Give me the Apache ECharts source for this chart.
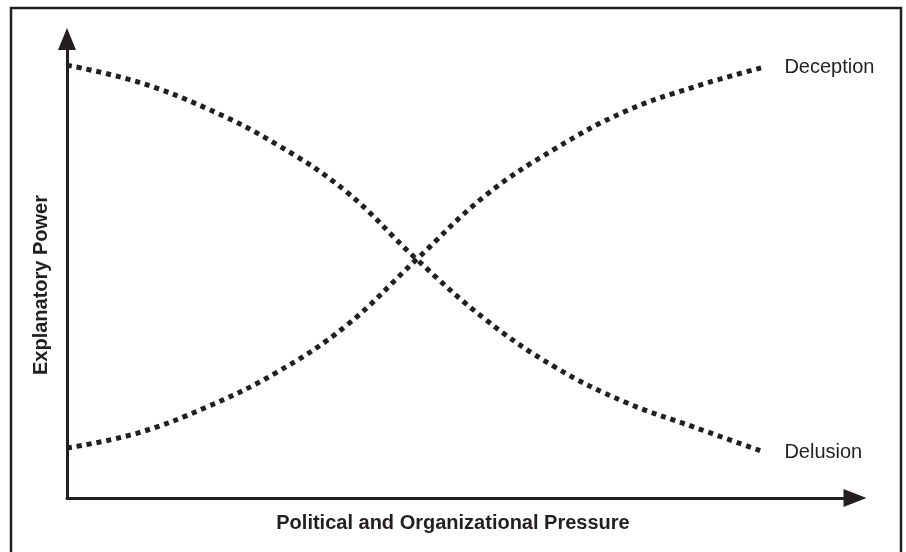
<!DOCTYPE html>
<html>
<head>
<meta charset="utf-8">
<script src="https://cdn.jsdelivr.net/npm/echarts@6/dist/echarts.min.js"></script>
<style>
  html, body { margin: 0; padding: 0; background: #fff; }
  #main { width: 906px; height: 552px; }
</style>
</head>
<body>
<div id="main"></div>
<script>
// pressure (x) and explanatory power (y)
var pressure  = [0, 8.85, 17.7, 26.55, 35.4, 44.25, 53.1, 61.95, 70.8, 79.65, 88.5];
var delusion  = [94.3, 90.7, 84.9, 77.1, 66.8, 52.2, 38.9, 28.5, 20.9, 15.4, 10.0];
var deception = [10.9, 14.1, 19.8, 27.3, 37.5, 51.8, 65.9, 76.1, 84.2, 89.6, 93.9];

var ink = '#231f20';
var font = '"Liberation Sans", Arial, sans-serif';

function pairs(ys) {
  return pressure.map(function (x, i) { return [x, ys[i]]; });
}

var myChart = echarts.init(document.getElementById('main'));

function curve(name, ys) {
  return {
    name: name,
    type: 'line',
    data: pairs(ys),
    smooth: 0.4,
    showSymbol: false,
    silent: true,
    lineStyle: { color: ink, width: 5, type: [5, 5], cap: 'butt' },
    endLabel: {
      show: true,
      formatter: '{a}',
      distance: 20,
      color: ink,
      fontSize: 20,
      fontFamily: font
    }
  };
}

var axisLine = function (size) {
  return {
    show: true,
    symbol: ['none', 'triangle'],
    symbolSize: size,
    lineStyle: { color: ink, width: 3 }
  };
};

var option = {
  backgroundColor: '#fff',
  animation: false,
  grid: { left: 67, right: 51, top: 39, bottom: 54, containLabel: false },
  xAxis: {
    type: 'value', min: 0, max: 100,
    axisLine: axisLine([18, 23]),
    axisTick: { show: false }, axisLabel: { show: false }, splitLine: { show: false }
  },
  yAxis: {
    type: 'value', min: 0, max: 100,
    axisLine: axisLine([18, 22]),
    axisTick: { show: false }, axisLabel: { show: false }, splitLine: { show: false }
  },
  graphic: [
    {
      type: 'rect',
      shape: { x: 11, y: 8, width: 890, height: 580 },
      style: { fill: null, stroke: ink, lineWidth: 2.5 },
      silent: true
    },
    {
      type: 'text',
      x: 453, y: 523,
      style: {
        text: 'Political and Organizational Pressure',
        fill: ink, font: 'bold 20px ' + font,
        align: 'center', verticalAlign: 'middle'
      }
    },
    {
      type: 'text',
      x: 41, y: 285,
      rotation: Math.PI / 2,
      style: {
        text: 'Explanatory Power',
        fill: ink, font: 'bold 20px ' + font,
        align: 'center', verticalAlign: 'middle'
      }
    }
  ],
  series: [
    curve('Delusion', delusion),
    curve('Deception', deception)
  ]
};

myChart.setOption(option);
</script>
</body>
</html>
